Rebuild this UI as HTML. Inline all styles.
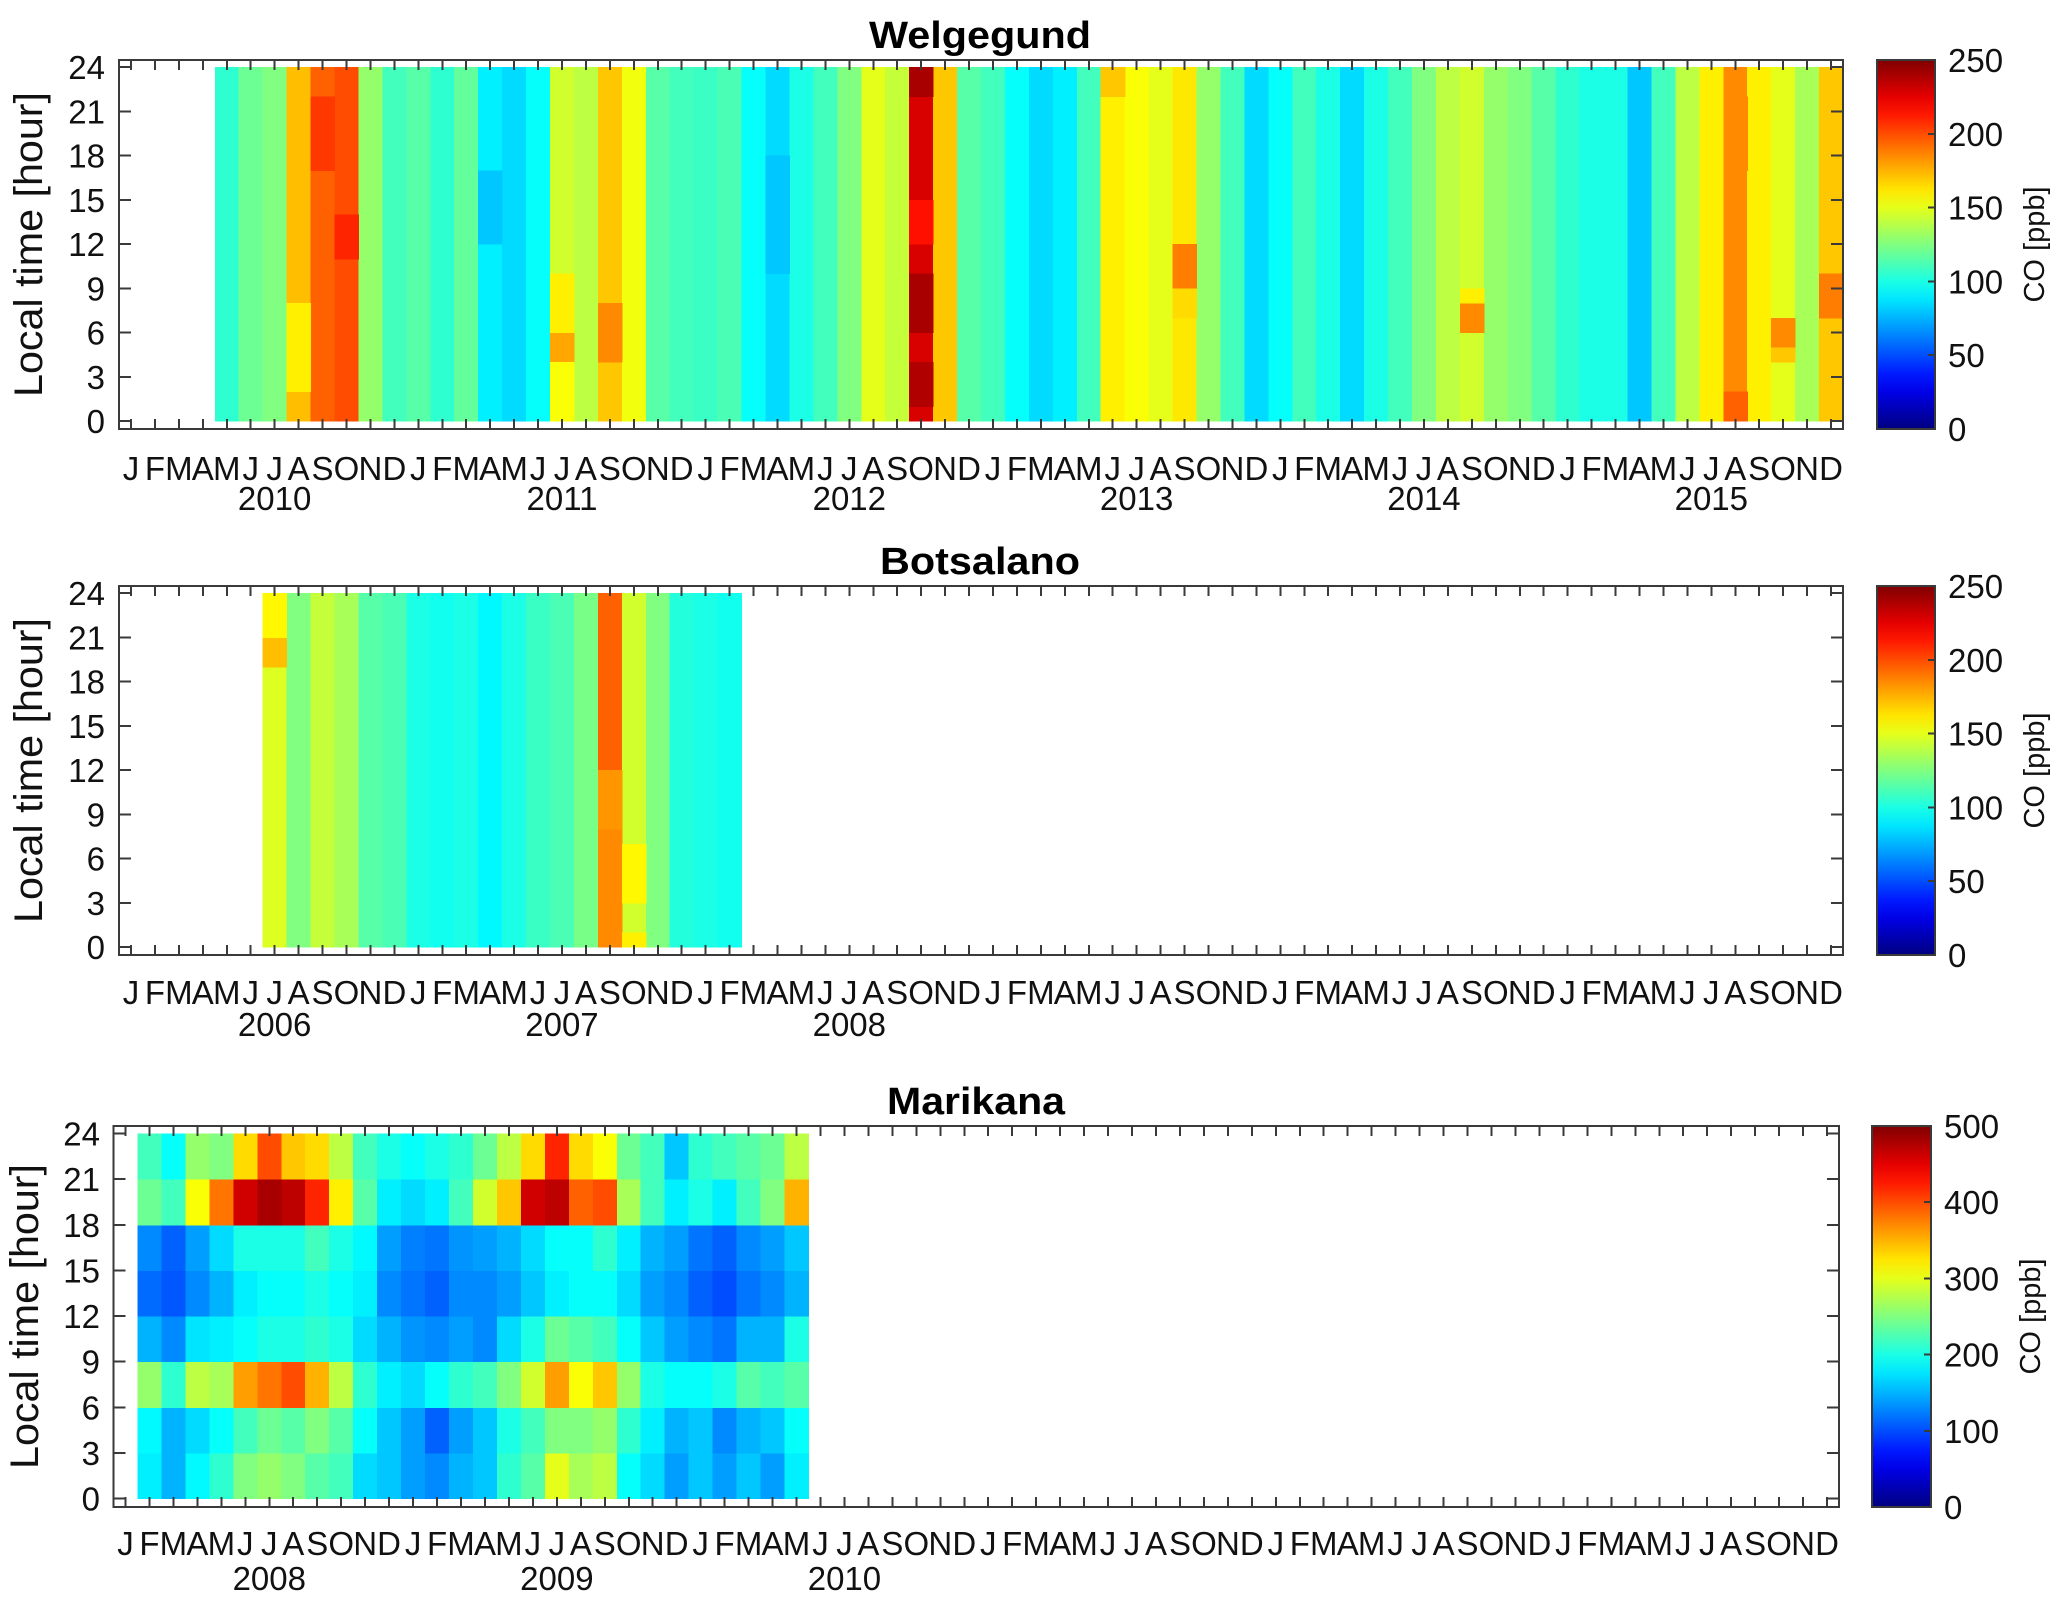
<!DOCTYPE html>
<html><head><meta charset="utf-8"><style>
html,body{margin:0;padding:0;background:#fff;}
svg{display:block;font-family:"Liberation Sans",Arial,sans-serif;}
</style></head><body>
<svg id="fig" width="2067" height="1611" viewBox="0 0 2067 1611" xmlns="http://www.w3.org/2000/svg" shape-rendering="crispEdges">
<defs>
<linearGradient id="jetgrad" x1="0" y1="1" x2="0" y2="0"></linearGradient>
</defs>
</svg>
<script>
// ---------- DATA ----------
const monthLetters = ['J','F','M','A','M','J','J','A','S','O','N','D'];
const hourTicks = [0,3,6,9,12,15,18,21,24];
// Welgegund: month index 0 = Jan 2010; data from index 4 (May 2010) to 71 (Dec 2015)
const welYears = ['2010','2011','2012','2013','2014','2015'];
const welStart = 4;
const welBase = [105,120,125,172,195,200,130,110,115,105,118,90,85,95,145,140,170,153,115,110,108,112,95,85,100,110,125,150,142,228,170,115,
  110,95,85,90,110,160,155,150,162,130,110,85,95,110,100,85,100,110,125,140,145,130,125,115,105,100,100,80,110,140,160,185,160,150,135,170];
// anomalies: [monthIndex, hourFrom, hourTo, value]
const welAnom = [[18,4,6,178],[18,0,4,155],[18,6,10,160],[33,6,10,240],[33,1,4,238],[33,22,24,240],[33,12,15,215],
  [7,2,8,160],[8,17,22,205],[9,11,14,210],[44,9,12,188],[44,7,9,165],[56,6,8,185],[56,8,9,160],
  [69,5,7,185],[69,4,5,170],[71,7,10,188],[67,0,2,195],[67,17,22,185],[20,4,8,185],[41,22,24,170],
  [15,12,17,80],[27,10,18,80]];
// Botsalano: month index 0 = Jan 2006; data from index 6 (Jul 2006)
const botYears = ['2006','2007','2008'];
const botStart = 6;
const botBase = [148,125,142,135,115,112,100,98,100,92,100,108,112,123,195,145,125,102,100,98];
const botAnom = [[6,19,21,172],[6,21,24,158],[20,0,8,185],[21,3,7,158],[21,0,1,160],[20,8,12,182]];
// Marikana: month index 0 = Jan 2008 label; cells from index 1; 8 three-hour blocks each
const marYears = ['2008','2009','2010'];
const marStart = 1;
const marBlocks = [
 [180,185,260,150,115,130,240,220],[150,150,210,130,105,110,220,190],[185,170,280,175,130,140,310,260],
 [210,190,270,180,150,170,380,250],[250,220,360,190,180,200,460,330],[260,240,380,200,190,200,480,400],
 [250,230,400,200,190,200,470,340],[230,250,350,210,200,220,420,330],[220,230,280,200,190,200,320,280],
 [170,190,210,170,180,185,230,220],[160,160,180,150,130,140,180,200],[140,140,170,135,120,125,170,190],
 [130,110,190,130,110,120,180,200],[150,140,210,140,130,135,220,210],[160,160,220,130,130,140,290,240],
 [210,200,250,170,140,150,340,280],[230,220,290,200,160,170,460,330],[300,250,360,240,180,190,470,420],
 [270,250,310,230,190,190,390,330],[280,260,340,220,190,210,400,310],[190,210,260,190,170,180,270,240],
 [170,180,200,160,140,150,220,220],[140,150,190,140,130,140,180,160],[160,160,190,130,110,120,200,210],
 [140,130,200,120,100,110,180,220],[160,150,230,150,120,130,220,230],[140,160,220,150,130,140,250,240],
 [180,190,230,200,150,160,350,280]];
const cb1Ticks = [0,50,100,150,200,250];
const cb3Ticks = [0,100,200,300,400,500];

// ---------- RENDER ----------
const NS='http://www.w3.org/2000/svg';
const svg=document.getElementById('fig');
function mk(tag,attrs,parent){const e=document.createElementNS(NS,tag);for(const k in attrs)e.setAttribute(k,attrs[k]);(parent||svg).appendChild(e);return e;}
function cl(v){return Math.max(0,Math.min(1,v));}
function jet(t){t=cl(t);const r=cl(1.5-Math.abs(4*t-3)),g=cl(1.5-Math.abs(4*t-2)),b=cl(1.5-Math.abs(4*t-1));
 return 'rgb('+Math.round(r*255)+','+Math.round(g*255)+','+Math.round(b*255)+')';}
const grad=svg.querySelector('#jetgrad');
for(let i=0;i<=20;i++){mk('stop',{offset:(i/20),'stop-color':jet(i/20)},grad);}

function panel(cfg){
 const g=mk('g',{});
 
 
 const L=cfg.x0,R=cfg.x1,T=cfg.y0,B=cfg.y1;
 const w=(R-L)/72;
 const xs=k=>L+(k+0.5)*w;
 const ys=h=>cfg.h0+(cfg.h24-cfg.h0)*h/24;
 const cells=mk('g',{},g);
 
 
 function cell(k,h0,h1,v){
  const r=mk('rect',{x:xs(k)-w/2,y:ys(h1),width:w+0.6,height:ys(h0)-ys(h1)+0.6,fill:jet(v/cfg.vmax)},cells);
  
  
 }
 cfg.draw(cell);
 const box=mk('rect',{x:L,y:T,width:R-L,height:B-T,fill:'none',stroke:'#3a3a3a','stroke-width':2},g);
 
 
 const tk=mk('g',{stroke:'#3a3a3a','stroke-width':2},g);
 
 
 for(let k=0;k<72;k++){const x=xs(k);
  mk('line',{x1:x,y1:B,x2:x,y2:B-10},tk);mk('line',{x1:x,y1:T,x2:x,y2:T+10},tk);}
 hourTicks.forEach(h=>{const y=ys(h);mk('line',{x1:L,y1:y,x2:L+12,y2:y},tk);mk('line',{x1:R,y1:y,x2:R-12,y2:y},tk);
  const t=mk('text',{x:cfg.ylx,y:y+12,'font-size':33,'text-anchor':'end',fill:'#111'},g);t.textContent=h;
  
  });
 for(let k=0;k<72;k++){const t=mk('text',{x:xs(k),y:cfg.mby,'font-size':33,'text-anchor':'middle',fill:'#111'},g);
  t.textContent=monthLetters[k%12];
  
  }
 cfg.years.forEach((yr,i)=>{const t=mk('text',{x:xs(12*i+6),y:cfg.yby,'font-size':33,'text-anchor':'middle',fill:'#111'},g);
  t.textContent=yr;
  
  });
 const ti=mk('text',{x:cfg.tx,y:cfg.ty,'font-size':38,'font-weight':'bold','text-anchor':'middle',fill:'#000',textLength:cfg.tw,lengthAdjust:'spacingAndGlyphs'},g);
 ti.textContent=cfg.title;
 
 
 const yl=mk('text',{x:0,y:0,'font-size':40,'text-anchor':'middle',fill:'#111',transform:'translate('+(cfg.ylabx)+','+((T+B)/2)+') rotate(-90)',textLength:305,lengthAdjust:'spacingAndGlyphs'},g);
 yl.textContent='Local time [hour]';
 
 
 const cb=mk('g',{},g);
 
 
 mk('rect',{x:cfg.cbx0,y:T,width:cfg.cbx1-cfg.cbx0,height:B-T,fill:'url(#jetgrad)',stroke:'#3a3a3a','stroke-width':2},cb);
 cfg.cbTicks.forEach(v=>{const y=B-(B-T)*v/cfg.vmax;
  mk('line',{x1:cfg.cbx1,y1:y,x2:cfg.cbx1-7,y2:y,stroke:'#3a3a3a','stroke-width':2},cb);
  const t=mk('text',{x:cfg.cbx1+13,y:y+12,'font-size':33,fill:'#111'},cb);t.textContent=v;
  
  });
 const cl2=mk('text',{x:0,y:0,'font-size':29,'text-anchor':'middle',fill:'#111',transform:'translate('+cfg.cblx+','+((T+B)/2)+') rotate(-90)'},cb);
 cl2.textContent='CO [ppb]';
 
 
}

function drawBase(base,start,anom){return cell=>{
 base.forEach((v,i)=>cell(start+i,0,24,v));
 anom.forEach(a=>cell(a[0],a[1],a[2],a[3]));};}

panel({name:'welgegund',title:'Welgegund',x0:119,x1:1843,y0:60,y1:429,h0:421,h24:67,vmax:250,
 draw:drawBase(welBase,welStart,welAnom),years:welYears,ylx:105,mby:480,yby:510,tx:980,ty:48,tw:222,ylabx:42,
 cbx0:1877,cbx1:1935,cbTicks:cb1Ticks,cblx:2044});
panel({name:'botsalano',title:'Botsalano',x0:119,x1:1843,y0:586,y1:955,h0:947,h24:593,vmax:250,
 draw:drawBase(botBase,botStart,botAnom),years:botYears,ylx:105,mby:1004,yby:1036,tx:980,ty:574,tw:200,ylabx:42,
 cbx0:1877,cbx1:1935,cbTicks:cb1Ticks,cblx:2044});
panel({name:'marikana',title:'Marikana',x0:113.5,x1:1839,y0:1126,y1:1507,h0:1498.5,h24:1133.5,vmax:500,
 draw:cell=>{marBlocks.forEach((col,i)=>col.forEach((v,b)=>cell(marStart+i,b*3,b*3+3,v)));},
 years:marYears,ylx:100,mby:1555,yby:1590,tx:976,ty:1114,tw:178,ylabx:38,
 cbx0:1872,cbx1:1931,cbTicks:cb3Ticks,cblx:2040});
</script>
</body></html>
